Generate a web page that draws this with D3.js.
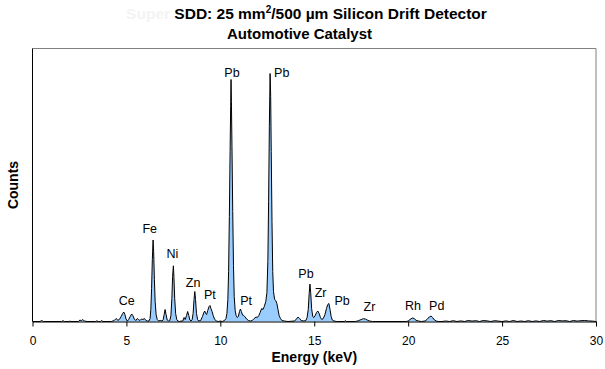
<!DOCTYPE html>
<html><head><meta charset="utf-8">
<script src="https://cdn.jsdelivr.net/npm/d3@7"></script>
<style>
body{margin:0;background:#fff}
svg{display:block}
text{font-family:"Liberation Sans",Arial,sans-serif}
</style>
</head><body><svg id="c" width="605" height="369"></svg>
<script>
// Spectrum: energy (keV) and counts (arbitrary units)
const energy = [0,0.4,0.49,0.58,1.55,1.62,1.7,1.95,2.0,2.05,2.45,2.52,2.6,2.68,2.76,2.9,3.35,3.42,3.5,3.62,3.68,3.75,4.2,
 4.35,4.45,4.55,4.62,4.72,4.8,4.86,4.92,4.98,5.05,5.12,5.2,5.28,5.34,5.42,5.5,5.58,5.64,5.72,5.8,5.88,5.96,6.04,6.12,
 6.2,6.26,6.3,6.34,6.38,6.42,6.45,6.49,6.53,6.58,6.64,6.72,6.8,6.9,6.96,7.01,7.06,7.11,7.17,7.25,
 7.31,7.37,7.42,7.46,7.5,7.53,7.57,7.62,7.68,7.74,7.82,7.92,8.0,8.07,8.13,8.2,8.26,8.32,8.38,8.44,
 8.5,8.55,8.6,8.64,8.68,8.73,8.79,8.85,8.95,9.05,9.12,9.17,9.22,9.27,9.33,9.4,9.45,9.5,9.56,9.62,9.7,9.8,9.9,10.0,10.1,
 10.22,10.3,10.35,10.4,10.44,10.48,10.52,10.55,10.57,10.59,10.62,10.66,10.7,10.74,10.79,10.84,10.9,
 10.96,11.02,11.07,11.12,11.18,11.25,11.32,11.4,11.5,11.6,11.7,11.8,11.9,11.97,12.05,12.12,12.2,12.27,12.34,
 12.42,12.48,12.53,12.57,12.61,12.65,12.68,12.71,12.75,12.79,12.83,12.89,12.95,13.01,13.07,13.13,13.2,13.28,13.4,13.6,
 13.95,14.05,14.14,14.22,14.3,14.45,14.55,14.62,14.68,14.73,14.77,14.81,14.86,14.92,14.98,15.05,15.12,15.19,15.26,15.33,15.4,
 15.48,15.57,15.65,15.72,15.78,15.84,15.9,15.96,16.05,16.2,16.6,16.65,16.7,17.2,17.35,17.5,17.62,17.72,17.85,17.95,18.1,
 19.9,20.0,20.1,20.22,20.32,20.42,20.55,20.7,20.9,21.0,21.12,21.22,21.3,21.4,21.5,21.6,21.8,
 22.0,22.2,22.4,22.6,22.8,23.0,23.2,23.4,23.6,23.8,24.0,24.2,24.4,24.6,24.8,25.0,25.2,25.4,25.6,25.8,26.0,26.2,26.4,26.6,26.8,
 27.0,27.2,27.4,27.6,27.8,28.0,28.2,28.4,28.6,28.8,29.0,29.2,29.4,29.6,29.8,30.0];
const counts = [0,0,10,0,0,8,0,0,4,0,0,15,8,20,5,0,0,6,0,0,10,0,0,
 10,30,12,20,50,80,95,70,25,5,20,50,75,60,25,10,30,20,10,25,20,30,10,5,
 5,30,120,330,620,815,700,420,200,70,20,5,10,5,20,70,120,70,15,5,
 10,60,230,450,557,440,230,80,20,5,0,5,5,40,20,60,100,60,15,5,
 20,80,220,300,220,80,20,5,10,50,90,105,80,70,110,150,160,130,100,60,20,5,0,5,0,
 10,30,80,220,500,1050,1700,2150,2420,2200,1750,1100,560,250,110,60,40,
 50,100,125,100,65,60,45,25,10,5,10,30,45,40,60,90,130,120,150,
 200,290,600,1200,1950,2480,2250,1700,1000,500,300,220,210,180,120,60,30,10,5,0,
 5,25,45,30,10,5,10,40,120,280,375,290,130,50,40,60,90,105,80,40,20,
 30,70,130,170,180,120,50,15,5,0,0,8,0,0,8,20,28,25,12,5,0,
 0,5,20,35,30,12,5,0,5,20,45,55,40,15,5,0,0,
 5,0,8,0,6,0,10,4,8,0,10,6,0,8,4,0,6,0,10,0,5,0,8,0,6,
 0,10,4,8,0,10,6,8,0,10,4,8,10,6,4,0];
const xTicks = [0,5,10,15,20,25,30];
const peakNames = ["Ce","Fe","Ni","Zn","Pt","Pb","Pt","Pb","Pb","Zr","Pb","Zr","Rh","Pd"];
const peakLabelEnergy = [5.02,6.24,7.45,8.55,9.44,10.62,11.37,13.27,14.56,15.34,16.48,17.94,20.26,21.52];
const peakLabelCounts = [165,888,632,348,230,2448,165,2448,440,248,165,108,115,115];
const titleFaint = "Super ";
const titleMain = ["SDD: 25 mm", "2", "/500 µm Silicon Drift Detector"];
const subtitle = "Automotive Catalyst";
const xTitle = "Energy (keV)";
const yTitle = "Counts";

const svg = d3.select("#c");
const L = 32.5, R = 596, T = 48.5, B = 321.5;
const x = d3.scaleLinear().domain([0,30]).range([L,R]);
const y = d3.scaleLinear().domain([0,2730]).range([B,T]);
const data = energy.map((e,i)=>({e, c: counts[i]}));

// frame (top/right grey)
svg.append("path").attr("d",`M${L},${T}H${R}V${B}`).attr("fill","none").attr("stroke","#808080").attr("stroke-width",1);

// area + line
svg.append("path").datum(data)
  .attr("d", d3.area().x(d=>x(d.e)).y0(y(0)).y1(d=>y(d.c)))
  .attr("fill","#99ccff");
svg.append("path").datum(data)
  .attr("d", d3.line().x(d=>x(d.e)).y(d=>y(d.c)))
  .attr("fill","none").attr("stroke","#000").attr("stroke-width",1);

// axes
const xa = svg.append("g").attr("transform",`translate(0,${B})`)
  .call(d3.axisBottom(x).tickValues(xTicks).tickSize(5).tickSizeOuter(0).tickPadding(10).tickFormat(d3.format("d")));
xa.select(".domain").attr("stroke","#000");
xa.selectAll(".tick line").attr("stroke","#000");
xa.selectAll(".tick text").attr("font-size",12).attr("font-family","Liberation Sans, Arial, sans-serif").attr("fill","#000");
svg.append("line").attr("x1",L).attr("x2",L).attr("y1",T).attr("y2",B).attr("stroke","#000");

// peak labels
svg.append("g").selectAll("text").data(peakNames).join("text")
  .attr("x",(d,i)=>x(peakLabelEnergy[i])).attr("y",(d,i)=>y(peakLabelCounts[i]))
  .attr("text-anchor","middle").attr("font-size",12.5).attr("fill","#000").text(d=>d);

// titles
const t1 = svg.append("text").attr("x",306.5).attr("y",19).attr("text-anchor","middle")
  .attr("font-size",15.5).attr("font-weight","bold");
t1.append("tspan").attr("fill","#f3f3f3").text(titleFaint);
t1.append("tspan").attr("fill","#000").text(titleMain[0]);
t1.append("tspan").attr("fill","#000").attr("font-size",10).attr("dy",-6).text(titleMain[1]);
t1.append("tspan").attr("fill","#000").attr("dy",6).text(titleMain[2]);
svg.append("text").attr("x",299.5).attr("y",39).attr("text-anchor","middle")
  .attr("font-size",15).attr("font-weight","bold").text(subtitle);

svg.append("text").attr("x",(L+R)/2).attr("y",362).attr("text-anchor","middle")
  .attr("font-size",14).attr("font-weight","bold").text(xTitle);
svg.append("text").attr("transform",`translate(18,${(T+B)/2}) rotate(-90)`).attr("text-anchor","middle")
  .attr("font-size",14).attr("font-weight","bold").text(yTitle);
</script>
</body></html>
